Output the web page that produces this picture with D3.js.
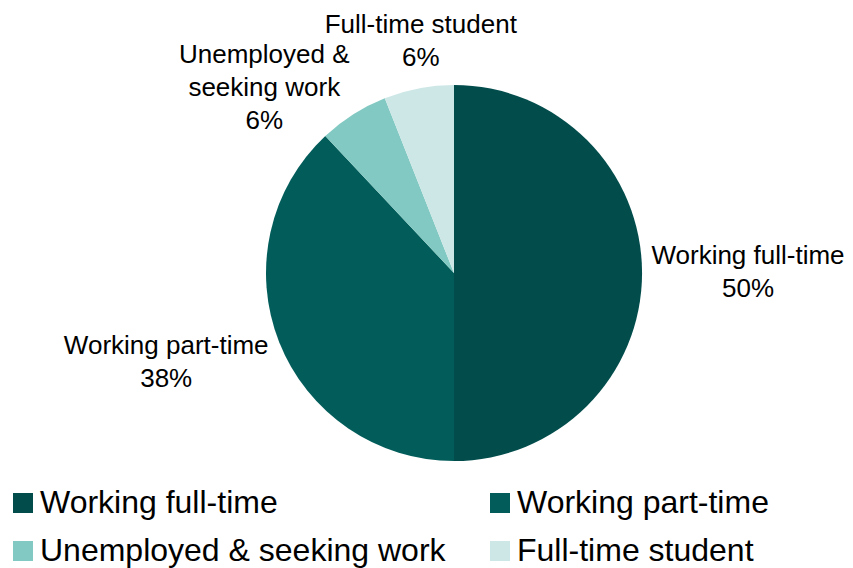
<!DOCTYPE html>
<html>
<head>
<meta charset="utf-8">
<script src="https://cdn.jsdelivr.net/npm/d3@7"></script>
<style>
  html, body { margin: 0; padding: 0; background: #fff; }
  svg { display: block; font-family: "Liberation Sans", Arial, sans-serif; }
</style>
</head>
<body>
<svg id="chart" width="853" height="568"></svg>
<script>
// Employment status shares (%)
const categories = ["Working full-time", "Working part-time", "Unemployed & seeking work", "Full-time student"];
const values = [50, 38, 6, 6];
// Slice label lines (category text split as shown, then the value)
const labelLines = [
  ["Working full-time"],
  ["Working part-time"],
  ["Unemployed &", "seeking work"],
  ["Full-time student"]
];
const colors = ["#024c4c", "#025d5a", "#81c9c2", "#cde7e6"];

const width = 853, height = 568;
const cx = 454, cy = 273, radius = 188;

const svg = d3.select("#chart");

const pie = d3.pie().sort(null).value(d => d)(values);
const arc = d3.arc().innerRadius(0).outerRadius(radius);

const g = svg.append("g").attr("transform", `translate(${cx},${cy})`);

g.selectAll("path.slice")
  .data(pie)
  .join("path")
  .attr("class", "slice")
  .attr("d", arc)
  .attr("fill", (d, i) => colors[i]);

// Label placement: offset of each label block's centre from the point on the rim at the slice's mid-angle
const labelOffset = [[106, -2], [-113, 19], [-89, -28], [2, -48]];
const fontSize = 26, lineH = 33;

pie.forEach((d, i) => {
  const a = (d.startAngle + d.endAngle) / 2;
  const px = Math.sin(a) * radius, py = -Math.cos(a) * radius;
  const lines = labelLines[i].concat([values[i] + "%"]);
  const lx = px + labelOffset[i][0];
  const ly = py + labelOffset[i][1];
  const firstBaseline = ly - (lines.length - 1) * lineH / 2 + fontSize * 0.36;
  const t = g.append("text")
    .attr("text-anchor", "middle")
    .attr("font-size", fontSize)
    .attr("fill", "#000");
  lines.forEach((s, k) => {
    t.append("tspan").attr("x", lx).attr("y", firstBaseline + k * lineH).text(s);
  });
});

// Legend: two columns, two rows
const legendCols = [13, 490], legendRows = [513, 561];
const legend = svg.append("g");
categories.forEach((c, i) => {
  const x = legendCols[i % 2], y = legendRows[Math.floor(i / 2)];
  legend.append("rect")
    .attr("x", x).attr("y", y - 20)
    .attr("width", 20).attr("height", 20)
    .attr("fill", colors[i]);
  legend.append("text")
    .attr("x", x + 27).attr("y", y)
    .attr("font-size", 32)
    .attr("fill", "#000")
    .text(c);
});
</script>
</body>
</html>
